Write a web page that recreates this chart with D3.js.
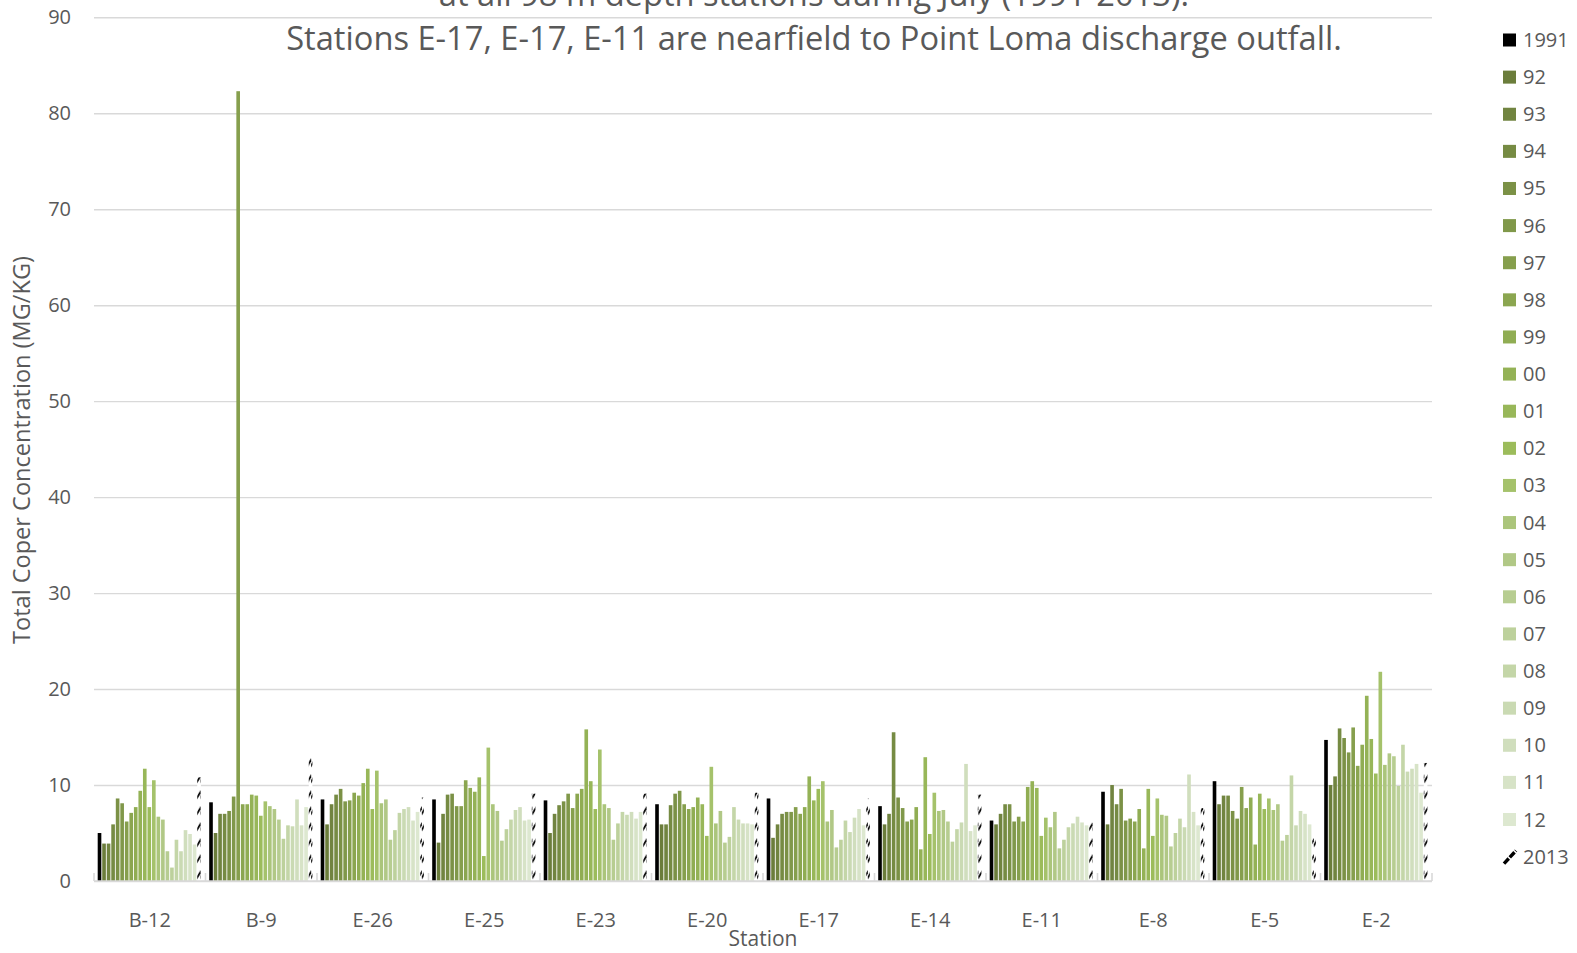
<!DOCTYPE html>
<html><head><meta charset="utf-8">
<script src="https://cdn.jsdelivr.net/npm/d3@7"></script>
<style>
body{margin:0;background:#fff;}
svg{display:block;font-family:'Open Sans','Noto Sans',sans-serif;}
</style>
</head><body>
<svg id="c" width="1577" height="953"></svg>
<script>
// ---------------- data ----------------
const stations = ["B-12","B-9","E-26","E-25","E-23","E-20","E-17","E-14","E-11","E-8","E-5","E-2"];
const years = ["1991","92","93","94","95","96","97","98","99","00","01","02","03","04","05","06","07","08","09","10","11","12","2013"];
const yTicks = [0,10,20,30,40,50,60,70,80,90];

// values per station, in year order 1991 ... 2013
const B12 = [5.0,3.9,3.9,5.9,8.6,8.1,6.2,7.1,7.7,9.4,11.7,7.7,10.5,6.7,6.4,3.1,1.4,4.3,3.1,5.3,4.9,3.8,10.8];
const B9  = [8.2,5.0,7.0,7.0,7.3,8.8,82.3,8.0,8.0,9.0,8.9,6.8,8.3,7.8,7.5,6.4,4.4,5.8,5.7,8.5,5.8,7.7,12.8];
const E26 = [8.5,5.9,8.0,9.0,9.6,8.3,8.4,9.2,8.9,10.2,11.7,7.5,11.5,8.1,8.5,4.3,5.3,7.1,7.5,7.7,6.3,7.2,8.7];
const E25 = [8.5,4.0,7.0,9.0,9.1,7.8,7.8,10.5,9.7,9.3,10.8,2.6,13.9,8.0,7.3,4.2,5.4,6.4,7.4,7.7,6.3,6.4,9.1];
const E23 = [8.4,5.0,7.0,7.9,8.3,9.1,7.6,9.1,9.6,15.8,10.4,7.5,13.7,8.0,7.6,4.3,6.0,7.2,6.9,7.2,6.5,7.2,9.1];
const E20 = [8.0,5.9,5.9,7.9,9.1,9.4,8.0,7.5,7.7,8.7,8.0,4.7,11.9,6.0,7.3,4.0,4.6,7.7,6.4,6.0,6.0,5.9,9.2];
const E17 = [8.6,4.5,5.9,7.0,7.2,7.2,7.7,7.0,7.7,10.9,8.4,9.6,10.4,6.2,7.4,3.5,4.3,6.3,5.1,6.6,7.5,5.8,8.6];
const E14 = [7.8,5.9,7.0,15.5,8.7,7.6,6.2,6.4,7.7,3.3,12.9,4.9,9.2,7.3,7.4,6.2,4.1,5.4,6.1,12.2,5.2,5.8,9.0];
const E11 = [6.3,5.9,7.0,8.0,8.0,6.2,6.7,6.2,9.8,10.4,9.7,4.7,6.6,5.6,7.2,3.4,4.3,5.6,6.0,6.7,6.1,5.8,6.1];
const E8  = [9.3,5.9,10.0,8.0,9.6,6.3,6.5,6.2,7.5,3.4,9.6,4.7,8.6,6.9,6.8,3.6,5.0,6.5,5.6,11.1,7.2,5.8,7.6];
const E5  = [10.4,8.0,8.9,8.9,7.3,6.5,9.8,7.6,8.7,3.8,9.1,7.5,8.6,7.4,8.0,4.2,4.8,11.0,5.8,7.3,7.0,5.9,5.0];
const E2  = [14.7,10.0,10.9,15.9,14.9,13.4,16.0,12.0,14.2,19.3,14.8,11.2,21.8,12.1,13.3,13.0,9.9,14.2,11.4,11.7,12.2,9.2,12.3];
const stationValues = [B12,B9,E26,E25,E23,E20,E17,E14,E11,E8,E5,E2];

const colors = ["#000000","#6b7d3b","#718440","#768b43","#7b9146","#80984a","#869f4d","#8ba650","#90ad53",
  "#94b256","#98b759","#9cbc5b","#a5c26b","#abc57b","#b1c886","#b7cd91","#bdd19c","#c4d6a8","#cadab3",
  "#d0debd","#d7e3c7","#dde8d0","hatch"];

const titleLines = ["at all 98 m depth stations during July (1991-2013).",
                    "Stations E-17, E-17, E-11 are nearfield to Point Loma discharge outfall."];
const yTitle = "Total Coper Concentration (MG/KG)";
const xTitle = "Station";

// ---------------- chart ----------------
const svg = d3.select("#c");
const L = 94, R = 1432, T = 17.3, B = 881;
const textCol = "#595959", gridCol = "#d9d9d9";

const x0 = d3.scaleBand().domain(stations).range([L, R]).padding(0);
const x1 = d3.scaleBand().domain(years).range([3.7, x0.bandwidth() - 3.7]).padding(0);
const y = d3.scaleLinear().domain([0, 90]).range([B, T]);

function fit(sel, target){
  const w = sel.node().getComputedTextLength();
  const fs = parseFloat(sel.attr("font-size"));
  sel.attr("font-size", (fs * target / w).toFixed(2));
}

// y axis + gridlines
const yAxis = svg.append("g").attr("transform", `translate(${L},0)`)
  .call(d3.axisLeft(y).tickValues(yTicks).tickSize(-(R - L)).tickPadding(23).tickFormat(d3.format("d")));
yAxis.select(".domain").remove();
yAxis.selectAll(".tick line").attr("stroke", gridCol).attr("stroke-width", 1.4);
yAxis.selectAll(".tick text").attr("fill", textCol).attr("font-size", 20)
  .attr("font-family", "'Open Sans',sans-serif");

// hatch patterns for 2013 (one per station, aligned to its bar)
const defs = svg.append("defs");
const bw = x1.bandwidth() - 0.9;
stations.forEach((s, i) => {
  const bx = x0(s) + x1("2013");
  const p = defs.append("pattern").attr("id", "h" + i)
    .attr("patternUnits", "userSpaceOnUse")
    .attr("x", bx).attr("y", B).attr("width", bw).attr("height", 16);
  p.append("rect").attr("width", bw).attr("height", 16).attr("fill", "#fff");
  p.append("polygon").attr("points", `0,11 ${bw},5 ${bw},8.5 0,14.5`).attr("fill", "#000");
});

// bars
const groups = svg.append("g").selectAll("g").data(stations).join("g")
  .attr("transform", d => `translate(${x0(d)},0)`);
groups.selectAll("rect").data((s, i) => stationValues[i].map((v, j) => ({i, j, v})))
  .join("rect")
  .attr("x", d => x1(years[d.j]))
  .attr("width", bw)
  .attr("y", d => y(d.v))
  .attr("height", d => y(0) - y(d.v))
  .attr("fill", d => colors[d.j] === "hatch" ? `url(#h${d.i})` : colors[d.j]);

// x axis line and category ticks
svg.append("line").attr("x1", L).attr("x2", R).attr("y1", B).attr("y2", B)
  .attr("stroke", gridCol).attr("stroke-width", 1.6);
svg.append("g").selectAll("line").data(stations.concat(["_end"])).join("line")
  .attr("x1", d => d === "_end" ? R : x0(d)).attr("x2", d => d === "_end" ? R : x0(d))
  .attr("y1", B - 8).attr("y2", B).attr("stroke", gridCol).attr("stroke-width", 1.6);

// x labels
svg.append("g").selectAll("text").data(stations).join("text")
  .attr("x", d => x0(d) + x0.bandwidth() / 2).attr("y", 927)
  .attr("text-anchor", "middle").attr("font-size", 20).attr("fill", textCol).text(d => d);

// axis titles
svg.append("text").attr("x", 763).attr("y", 946).attr("text-anchor", "middle")
  .attr("font-size", 21).attr("fill", textCol).text(xTitle);
const yt = svg.append("text").attr("transform", "translate(30,450) rotate(-90)")
  .attr("text-anchor", "middle").attr("font-size", 20).attr("fill", textCol).text(yTitle);
fit(yt, 388);

// title (first line is partly above the top edge, as in the original)
const t2 = svg.append("text").attr("x", 814).attr("y", 50).attr("text-anchor", "middle")
  .attr("font-size", 30).attr("fill", textCol).text(titleLines[1]);
fit(t2, 1056);
svg.append("text").attr("x", 814).attr("y", 6).attr("text-anchor", "middle")
  .attr("font-size", t2.attr("font-size")).attr("fill", textCol).text(titleLines[0]);

// legend
const lg = svg.append("g").selectAll("g").data(years).join("g")
  .attr("transform", (d, i) => `translate(1503,${40 + i * 37.12})`);
lg.each(function(d, i){
  const g = d3.select(this);
  if (colors[i] === "hatch") {
    g.append("line").attr("x1", 1).attr("y1", 7).attr("x2", 13).attr("y2", -6)
      .attr("stroke", "#000").attr("stroke-width", 3.4).attr("stroke-dasharray", "7,1.5");
  } else {
    g.append("rect").attr("x", 0).attr("y", -6.5).attr("width", 13).attr("height", 13).attr("fill", colors[i]);
  }
  g.append("text").attr("x", 20).attr("y", 7).attr("font-size", 20).attr("fill", textCol).text(d);
});
</script>
</body></html>
